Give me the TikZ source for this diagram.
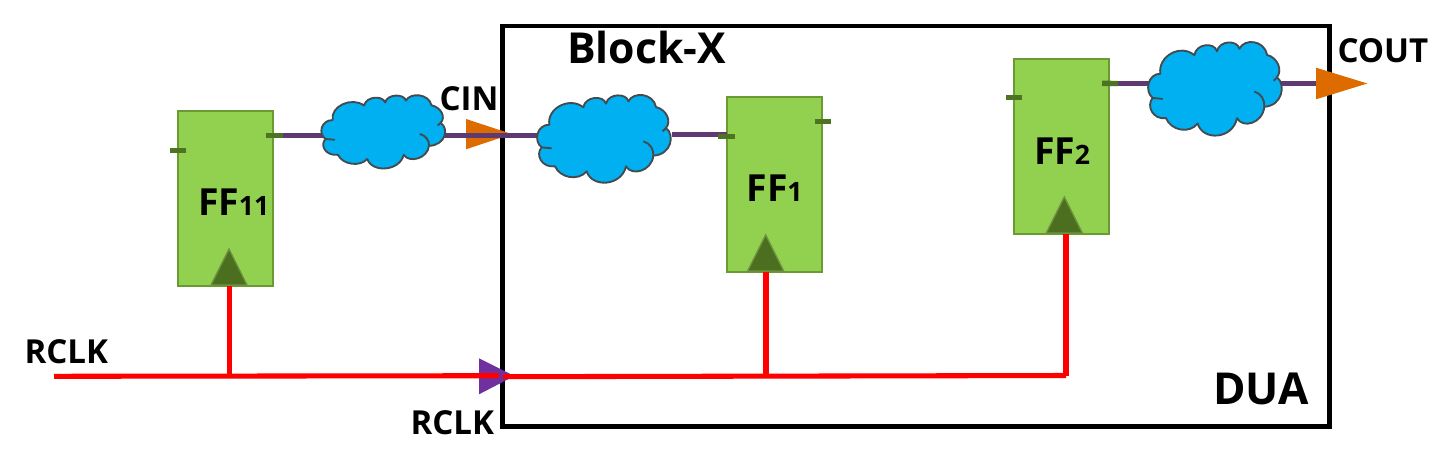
\documentclass[tikz,border=0pt]{standalone}
\usepackage{fontspec}
\setmainfont{Open Sans}
\definecolor{ffgreen}{HTML}{92D050}
\definecolor{ffedge}{HTML}{6B9A33}
\definecolor{stubgreen}{HTML}{4E7321}
\definecolor{clkgreen}{HTML}{4B6F1E}
\definecolor{clkedge}{HTML}{6C9140}
\definecolor{cloudblue}{HTML}{00B0F0}
\definecolor{cloudedge}{HTML}{434B50}
\definecolor{wirepurple}{HTML}{5F3A72}
\definecolor{portorange}{HTML}{DE6B00}
\definecolor{portpurple}{HTML}{7030A0}
\tikzset{
  ffbox/.style={draw=ffedge,fill=ffgreen,line width=1.6pt,inner sep=0pt,outer sep=0pt,minimum width=71.25pt,minimum height=131pt},
  duabox/.style={draw=black,line width=3.4pt,inner sep=0pt,outer sep=0pt,minimum width=620.25pt,minimum height=300.4pt},
  wire/.style={draw=wirepurple,line width=3.8pt},
  clockline/.style={draw=red,line width=3.8pt},
  stub/.style={draw=stubgreen,line width=4pt},
  label/.style={inner sep=0pt,outer sep=0pt,anchor=base west,font=\fontsize{24.8}{28}\selectfont\bfseries},
  biglabel/.style={inner sep=0pt,outer sep=0pt,anchor=base west,font=\fontsize{32}{36}\selectfont\bfseries},
  fflabel/.style={inner sep=0pt,outer sep=0pt,anchor=base west,font=\fontsize{28}{30}\selectfont\bfseries},
  cloudanchor/.style={inner sep=0pt,outer sep=0pt},
  pics/clk/.style={code={\draw[fill=clkgreen,draw=clkedge,line width=1pt,line join=miter] (-18,0) -- (0,-36) -- (18,0) -- cycle;}},
  pics/blob/.style={code={
    \begin{scope}[scale=0.3333,shift={(-252,-178)},draw=cloudedge,line width=1.4pt]
    \filldraw[fill=cloudblue,line join=round] (88,135) .. controls (80,85) and (150,50) .. (190,83)
      .. controls (195,50) and (250,45) .. (258,72)
      .. controls (265,40) and (320,40) .. (325,65)
      .. controls (340,35) and (400,40) .. (408,82)
      .. controls (440,90) and (455,125) .. (438,145)
      .. controls (465,165) and (455,225) .. (400,228)
      .. controls (395,275) and (335,290) .. (318,260)
      .. controls (305,320) and (215,325) .. (200,275)
      .. controls (175,305) and (120,295) .. (105,260)
      .. controls (65,265) and (45,225) .. (65,203)
      .. controls (40,185) and (50,135) .. (88,135) -- cycle;
    \draw (65,203) -- (95,206);
    \draw (370,185) .. controls (390,190) and (402,210) .. (400,228);
    \draw (428,155) -- (438,145);
    \end{scope}}}
}
\newcommand{\ffdigits}[1]{{\fontsize{20}{24}\selectfont #1}}
\begin{document}
\begin{tikzpicture}[x=0.75pt,y=-0.75pt]
\useasboundingbox[fill=white] (0,0) rectangle (1455,468);
% block
\node[duabox] (dua) at (916,226.25) {};
% named points
\coordinate (q11) at (283,135.7);
\coordinate (cinp) at (515,135.7);
\coordinate (d1in) at (537,135.7);
\coordinate (c2out) at (672,134.3);
\coordinate (d1) at (727,134.3);
\coordinate (q2) at (1118,83.5);
\coordinate (cout) at (1316,83.5);
\coordinate (rclkstart) at (54,376.3);
\coordinate (rclkport) at (499,375.7);
\coordinate (rclkin) at (503,376.7);
\coordinate (rclkend) at (1066,375.5);
% flip-flops
\node[ffbox] (ff11) at (225.5,198.5) {};
\node[ffbox] (ff1) at (774.5,184.5) {};
\node[ffbox] (ff2) at (1061.5,146.5) {};
% ports
\fill[portorange] (466,119) -- (511.7,134) -- (466,149.3) -- cycle;
\fill[portorange] (1316,67.7) -- (1367.3,83.5) -- (1316,99.3) -- cycle;
\fill[portpurple] (479,358.3) -- (514.3,376) -- (479,394.3) -- cycle;
% data wires
\draw[wire] (q11) -- (cinp);
\draw[wire] (cinp) -- (d1in);
\draw[wire] (c2out) -- (d1);
\draw[wire] (q2) -- (cout);
% clouds
\node[cloudanchor] (cloud1) at (383.3,132) {};
\node[cloudanchor] (cloud2) at (604,139) {};
\node[cloudanchor] (cloud3) at (1215,89) {};
\pic[xscale=0.926,yscale=0.835] at (cloud1) {blob};
\pic at (cloud2) {blob};
\pic[yscale=1.067] at (cloud3) {blob};
% clock tree
\draw[clockline] (rclkstart) -- (rclkport);
\draw[clockline] (rclkin) -- (rclkend);
\draw[clockline] (229.5,286) -- (229.5,376);
\draw[clockline] (766,272) -- (766,376);
\draw[clockline] (1066,234) -- (rclkend);
% clock triangles
\pic at (229,285) {clk};
\pic at (765.7,271) {clk};
\pic at (1064.3,233) {clk};
% stubs
\draw[stub] (266,135.7) -- (q11);
\draw[stub] (170,150.3) -- (186,150.3);
\draw[stub] (718,136.3) -- (735,136.3);
\draw[stub] (815,121.3) -- (831,121.3);
\draw[stub] (1102,83.3) -- (q2);
\draw[stub] (1006,97.7) -- (1022,97.7);
% labels
\node[fflabel] (t11) at (198,215) {FF\ffdigits{11}};
\node[fflabel] (t1) at (746.5,201.7) {FF\ffdigits{1}};
\node[fflabel] (t2) at (1034,164) {FF\ffdigits{2}};
\node[biglabel] (blockx) at (567,63) {Block-X};
\node[biglabel,font=\fontsize{33}{36}\selectfont\bfseries] (duat) at (1213,404) {DUA};
\node[label] (cint) at (439.5,110.7) {CIN};
\node[label] (coutt) at (1337.5,62) {COUT};
\node[label] (rclk1) at (24.5,363) {RCLK};
\node[label] (rclk2) at (410.5,434) {RCLK};
\end{tikzpicture}
\end{document}
